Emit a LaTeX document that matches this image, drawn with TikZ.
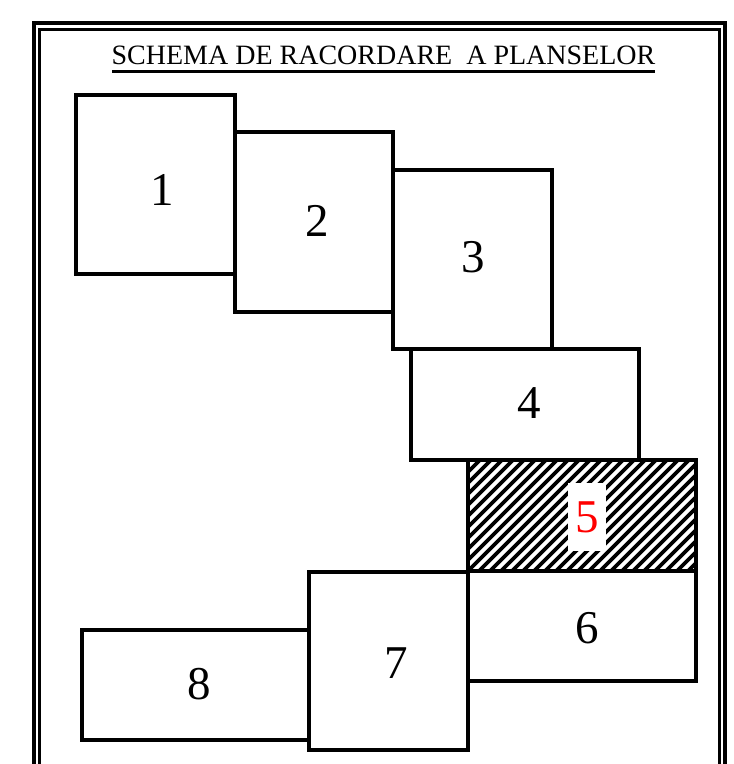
\documentclass[tikz,border=0pt]{standalone}
\usepackage{fontspec}
\setmainfont{Liberation Serif}
\begin{document}
\begin{tikzpicture}[x=1pt, y=-1pt, line cap=butt, line join=miter,
  plansa/.style={draw=none, font=\fontsize{47}{52}\selectfont, inner sep=0pt}]
  \useasboundingbox (0,0) rectangle (734,764);
  \clip (0,0) rectangle (734,764);
  % chenarul dublu al foii
  \draw[line width=4.5pt] (34,780) -- (34,23) -- (725,23) -- (725,780);
  \draw[line width=3pt] (39.5,780) -- (39.5,29) -- (719,29) -- (719,780);
  % titlul
  \node[font=\fontsize{28}{33}\selectfont, anchor=base] (titlu) at (383.5,64) {SCHEMA DE RACORDARE\ \ A PLANSELOR};
  \draw[line width=3pt] (112,71) -- (655,71);
  % hasura plansei 5
  \begin{scope}
    \clip (468,460) rectangle (696,571);
    \foreach \x in {347,358,...,700} {
      \draw[line width=3.6pt] (\x,571) -- (\x+111,460);
    }
  \end{scope}
  % plansele
  \begin{scope}[line width=4pt]
    \draw (76,95) rectangle (235,274);
    \draw (235,132) rectangle (393,312);
    \draw (393,170) rectangle (552,349);
    \draw (411,349) rectangle (639,460);
    \draw (468,460) rectangle (696,571);
    \draw (468,571) rectangle (696,681);
    \draw (309,572) rectangle (468,750);
    \draw (82,630) rectangle (309,740);
  \end{scope}
  % numerele plansei
  \node[plansa] (p1) at (162,190) {1};
  \node[plansa] (p2) at (317,221) {2};
  \node[plansa] (p3) at (473,257) {3};
  \node[plansa] (p4) at (529,403) {4};
  \node[plansa, fill=white, text=red, inner xsep=7pt, inner ysep=18pt] (p5) at (587,517) {5};
  \node[plansa] (p6) at (587,628) {6};
  \node[plansa] (p7) at (396,663) {7};
  \node[plansa] (p8) at (199,684) {8};
\end{tikzpicture}
\end{document}
